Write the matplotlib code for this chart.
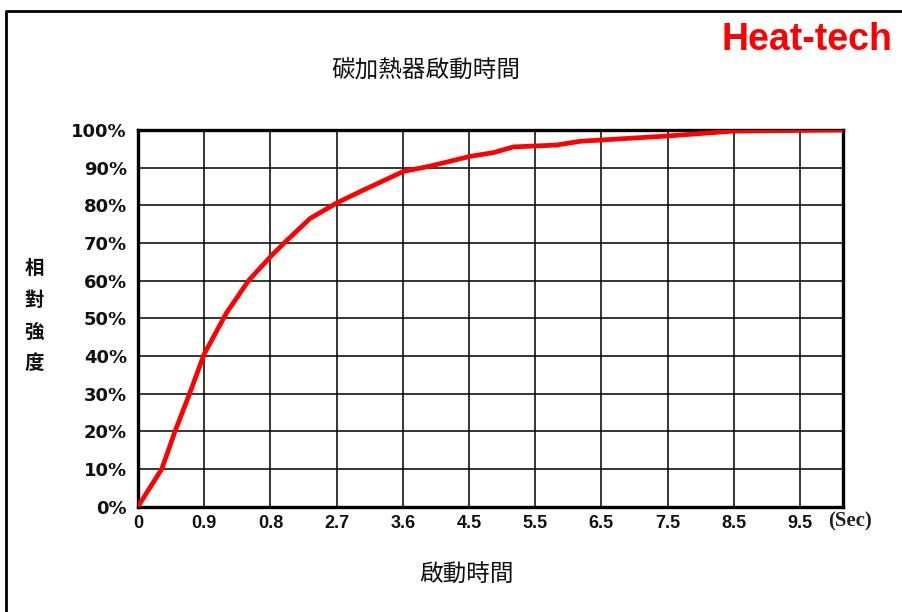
import matplotlib
matplotlib.use("Agg")
import matplotlib.pyplot as plt
from matplotlib.lines import Line2D

# ---- data (x in grid-cell units, y in percent) ----
x_vals = [0, 0.36, 0.56, 0.78, 1.0, 1.34, 1.67, 2.02, 2.25, 2.6, 3.0, 3.4,
          4.01, 4.41, 5.02, 5.37, 5.67, 6.32, 6.68, 7.99, 8.99, 10.65]
y_vals = [0, 10, 20, 30, 40.5, 51.5, 60, 66.7, 70.7, 76.5, 80.6, 84,
          89, 90.4, 93, 94, 95.5, 96, 97, 98.4, 99.7, 100]
x_tick_labels = ["0", "0.9", "0.8", "2.7", "3.6", "4.5", "5.5", "6.5",
                 "7.5", "8.5", "9.5"]
y_tick_values = [0, 10, 20, 30, 40, 50, 60, 70, 80, 90, 100]
y_tick_labels = [f"{v}%" for v in y_tick_values]

title = "碳加熱器啟動時間"
xlabel = "啟動時間"
ylabel = "相\n對\n強\n度"
brand = "Heat-tech"
unit = "(Sec)"

W, H = 903, 612
fig = plt.figure(figsize=(W / 100, H / 100), dpi=100)
fig.patch.set_facecolor("white")

ax = fig.add_axes([138 / W, 1 - 506.5 / H, (843 - 138) / W, (506.5 - 130) / H])
ax.plot(x_vals, y_vals, color="#ff0000", lw=3.4, solid_capstyle="round",
        solid_joinstyle="round", zorder=3)

ax.set_xlim(0, 10.65)
ax.set_ylim(0, 100)
ax.set_xticks(range(len(x_tick_labels)))
ax.set_xticklabels(x_tick_labels)
ax.set_yticks(y_tick_values)
ax.set_yticklabels(y_tick_labels)
ax.grid(True, color="black", lw=1.1, zorder=1)
ax.set_axisbelow(True)
for s in ax.spines.values():
    s.set_linewidth(2.4)
    s.set_color("black")
ax.tick_params(length=0)
ax.tick_params(axis="y", pad=8)
ax.tick_params(axis="x", pad=6)
for lab in ax.get_yticklabels():
    lab.set_fontfamily(["DejaVu Sans"])
    lab.set_fontweight("bold")
    lab.set_fontsize(13)
    lab.set_color("#111111")
for lab in ax.get_xticklabels():
    lab.set_fontfamily(["Liberation Sans Narrow", "Liberation Sans", "DejaVu Sans"])
    lab.set_fontweight("bold")
    lab.set_fontsize(13)
    lab.set_color("#111111")

cjk = ["Noto Sans CJK TC", "DejaVu Sans"]
fig.text(426 / W, 1 - 70 / H, title, ha="center", va="center",
         fontsize=17, family=cjk, fontweight="medium", color="#111111")
fig.text(467 / W, 1 - 575 / H, xlabel, ha="center", va="center",
         fontsize=17, family=cjk, fontweight="medium", color="#111111")
fig.text(34 / W, 1 - 316 / H, ylabel, ha="center", va="center",
         fontsize=14, family=cjk, fontweight="bold", linespacing=1.85,
         color="#111111")
fig.text(828 / W, 1 - 521 / H, unit, ha="left", va="center",
         fontsize=15, family=["Liberation Serif", "DejaVu Serif"],
         fontweight="bold", color="#222222")
fig.text(722 / W, 1 - 40 / H, brand, ha="left", va="center",
         fontsize=27, family=["Liberation Sans Narrow", "Liberation Sans", "DejaVu Sans"],
         fontweight="bold", color="#ff0000")

# outer frame (left and top borders visible)
fig.add_artist(Line2D([6 / W, 6 / W, 1.0], [0.0, 1 - 11 / H, 1 - 11 / H],
                      transform=fig.transFigure, color="black", lw=2.0))

fig.savefig("out.png", dpi=100)
